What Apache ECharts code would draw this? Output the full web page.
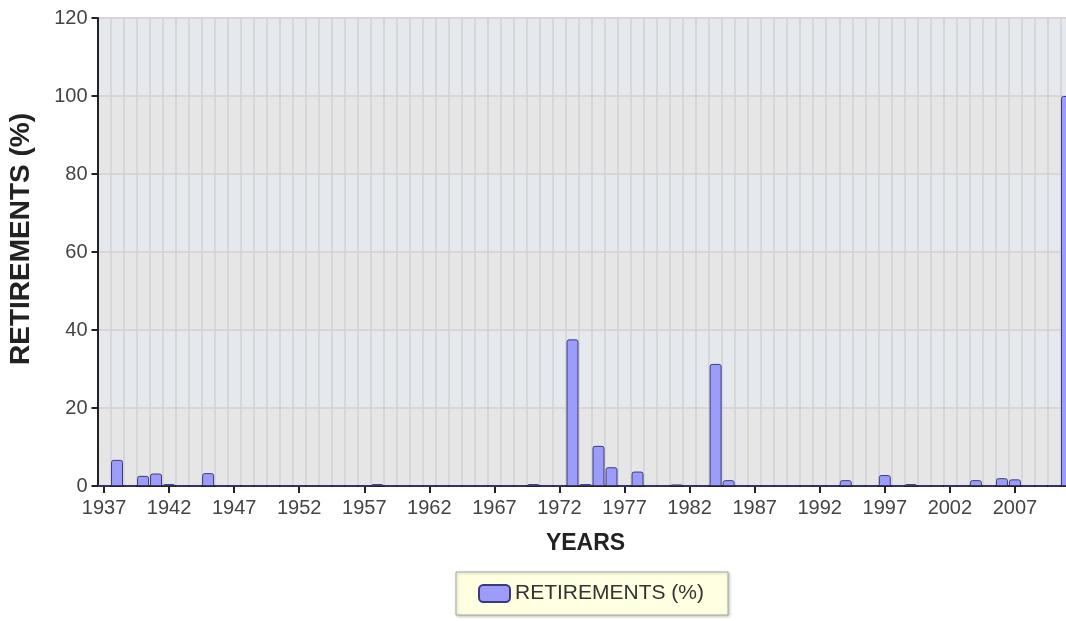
<!DOCTYPE html>
<html>
<head>
<meta charset="utf-8">
<script src="https://cdn.jsdelivr.net/npm/echarts@6/dist/echarts.min.js"></script>
<style>
html,body{margin:0;padding:0;overflow:hidden;background:#fff;}
#chart{width:1080px;height:621px;}
</style>
</head>
<body>
<div id="chart"></div>
<script>
// Years 1937..2011
const years = ['1937','1938','1939','1940','1941','1942','1943','1944','1945','1946',
  '1947','1948','1949','1950','1951','1952','1953','1954','1955','1956',
  '1957','1958','1959','1960','1961','1962','1963','1964','1965','1966',
  '1967','1968','1969','1970','1971','1972','1973','1974','1975','1976',
  '1977','1978','1979','1980','1981','1982','1983','1984','1985','1986',
  '1987','1988','1989','1990','1991','1992','1993','1994','1995','1996',
  '1997','1998','1999','2000','2001','2002','2003','2004','2005','2006',
  '2007','2008','2009','2010','2011'];
const retirements = [0,6.7,0,2.6,3.2,0.5,0,0,3.3,0,
  0,0,0,0,0,0,0,0,0,0,
  0,0.5,0,0,0,0,0,0,0,0,
  0,0,0,0.5,0,0,37.6,0.5,10.3,4.8,
  0,3.7,0,0,0.4,0,0,31.3,1.5,0,
  0,0,0,0,0,0,0,1.5,0,0,
  2.8,0,0.5,0,0,0,0,1.5,0,2.0,
  1.7,0,0,0,100];
const yTicks = {min: 0, max: 120, interval: 20};
const seriesName = 'RETIREMENTS (%)';

const font = "'Liberation Sans', Arial, sans-serif";
const chart = echarts.init(document.getElementById('chart'));
chart.setOption({
  animation: false,
  grid: {left: 97.5, right: 6.5, top: 18, bottom: 135, outerBoundsMode: 'none', containLabel: false},
  legend: {
    data: [seriesName],
    left: 456, top: 572,
    padding: [11, 24, 11, 22],
    itemWidth: 31, itemHeight: 17, itemGap: 10,
    backgroundColor: '#ffffe2',
    borderColor: '#a8a8a0', borderWidth: 1,
    shadowColor: 'rgba(0,0,0,0.25)', shadowBlur: 3, shadowOffsetX: 1, shadowOffsetY: 1,
    textStyle: {fontFamily: font, fontSize: 21, color: '#333'}
  },
  xAxis: [{
    type: 'category',
    data: years,
    boundaryGap: true,
    name: 'YEARS',
    nameLocation: 'middle',
    nameGap: 46,
    nameTextStyle: {fontFamily: font, fontSize: 23, fontWeight: 'bold', color: '#222'},
    axisLine: {show: true, lineStyle: {color: '#222', width: 2}},
    axisTick: {show: true, interval: 4, alignWithLabel: true, length: 7, lineStyle: {color: '#222', width: 2}},
    axisLabel: {interval: 4, fontFamily: font, fontSize: 20, color: '#444', margin: 12},
    splitLine: {show: false}
  }, {
    type: 'value',
    position: 'bottom',
    min: 1936.5, max: 2011.5, interval: 1,
    axisLine: {show: false}, axisTick: {show: false}, axisLabel: {show: false},
    splitLine: {show: true, lineStyle: {color: '#cfd2d6', width: 1.5}}
  }],
  yAxis: {
    type: 'value',
    min: yTicks.min, max: yTicks.max, interval: yTicks.interval,
    name: 'RETIREMENTS (%)',
    nameLocation: 'middle',
    nameGap: 62,
    nameTextStyle: {fontFamily: font, fontSize: 28, fontWeight: 'bold', color: '#222', padding: [0, 0, 0, 26]},
    axisLine: {show: true, lineStyle: {color: '#222', width: 2}},
    axisTick: {show: true, length: 6, lineStyle: {color: '#222', width: 2}},
    axisLabel: {fontFamily: font, fontSize: 20, color: '#444', margin: 10},
    splitLine: {show: true, lineStyle: {color: '#d8d4d8', width: 2}},
    splitArea: {show: true, areaStyle: {color: ['#e7e6e7', '#e5e8ec']}}
  },
  series: [{
    name: seriesName,
    type: 'bar',
    xAxisIndex: 0,
    data: retirements,
    barCategoryGap: '8%',
    itemStyle: {color: '#9c9cfb', borderColor: '#3a3a7a', borderWidth: 1, borderRadius: [2, 2, 0, 0]}
  }]
});
</script>
</body>
</html>
